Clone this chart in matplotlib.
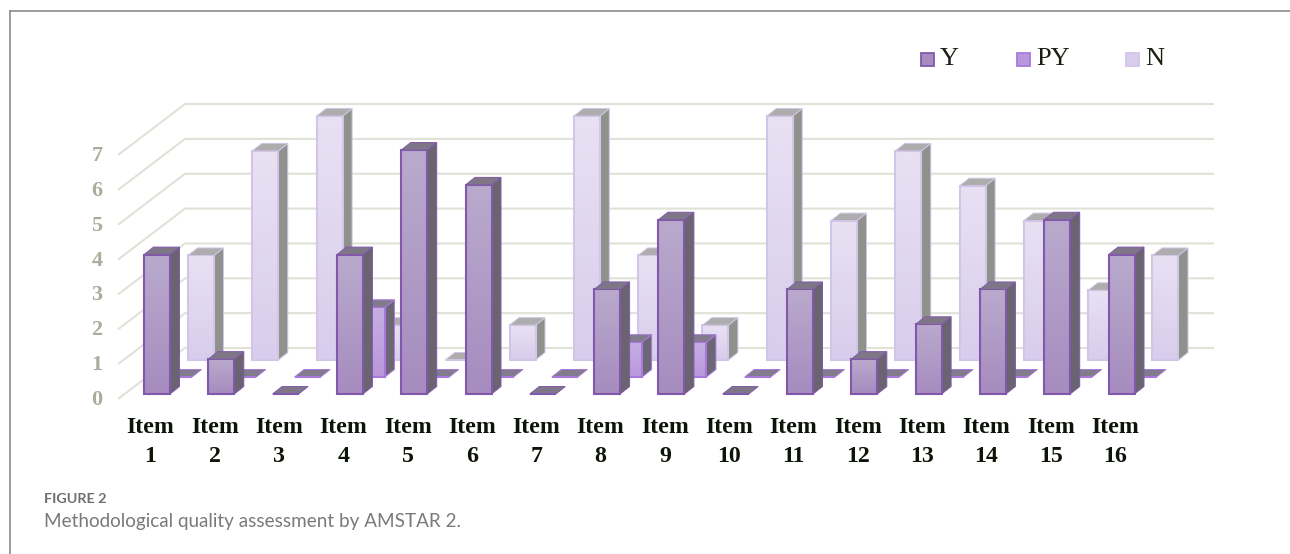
import numpy as np
import matplotlib
matplotlib.use("Agg")
import matplotlib.pyplot as plt
from matplotlib.colors import to_rgb
from matplotlib.patches import Polygon, Rectangle

# Counts of studies per AMSTAR 2 item
items = [f"Item\n{i}" for i in range(1, 17)]
y_counts = [4, 1, 0, 4, 7, 6, 0, 3, 5, 0, 3, 1, 2, 3, 5, 4]
py_counts = [0, 0, 0, 2, 0, 0, 0, 1, 1, 0, 0, 0, 0, 0, 0, 0]
n_counts = [3, 6, 7, 1, 0, 1, 7, 3, 1, 7, 4, 6, 5, 4, 2, 3]
value_ticks = list(range(8))

W, H = 1290, 554
UX, UY = 64.3, 34.85          # pixels per item / per count
X0, Y0 = 157.0, 394.0         # pixel position of item 1 centre and of count 0

fig = plt.figure(figsize=(W / 100, H / 100), dpi=100, facecolor="white")
ax = fig.add_axes([0, 0, 1, 1])
ax.axis("off")

BAR_W = 26 / UX
DEPTH_X, DEPTH_Y = 9.5 / UX, 7.5 / UY
ROW_X, ROW_Y = 22.0 / UX, 17.0 / UY

# Oblique grid: a diagonal floor/wall seam and a long horizontal for every count
GRID = "#e0e2d7"
grid_front_x = 1 - 39 / UX
grid_back_x = 1 + 28 / UX
grid_end_x = 1 + (1214 - X0) / UX
for v in value_ticks:
    ax.plot([grid_front_x, grid_back_x, grid_end_x],
            [v - 5 / UY, v + 46 / UY, v + 46 / UY],
            color=GRID, lw=1.5, zorder=1, solid_capstyle="butt")
    ax.text(1 - 60 / UX, v - 6 / UY, str(v), ha="center", va="center",
            family="Liberation Serif", weight="bold", fontsize=16, color="#a8ae9b", zorder=1)

# Colours per series: gradient top, gradient bottom, edge, side face, top face
STYLES = {
    "Y": ("#b9aacd", "#a68cbf", "#8158ab", "#6a6470", "#7f7788"),
    "PY": ("#c6afe4", "#b997dc", "#a878dc", "#6c6675", "#827b8c"),
    "N": ("#e8e1f3", "#d8cdec", "#d2c5e8", "#8f918c", "#aeadad"),
}

order = [0]


def next_z():
    order[0] += 1
    return 2 + order[0] * 0.01


def draw_bar(i, value, row, style):
    top_c, bot_c, edge, side_c, lid_c = STYLES[style]
    x = i - BAR_W / 2 + row * ROW_X
    b = row * ROW_Y
    t = b + value
    grad = np.linspace(to_rgb(top_c), to_rgb(bot_c), 64).reshape(64, 1, 3)
    if value > 0:
        # right-hand side face and gradient front face
        ax.add_patch(Polygon([(x + BAR_W, b), (x + BAR_W + DEPTH_X, b + DEPTH_Y),
                              (x + BAR_W + DEPTH_X, t + DEPTH_Y), (x + BAR_W, t)],
                             fc=side_c, ec=edge, lw=0.7, zorder=next_z()))
        ax.imshow(grad, extent=(x, x + BAR_W, b, t), aspect="auto", origin="upper",
                  interpolation="bilinear", zorder=next_z())
        ax.add_patch(Rectangle((x, b), BAR_W, value, fc="none", ec=edge, lw=1.5, zorder=next_z()))
    # lid; a zero count leaves only this flat tile on the floor
    ax.add_patch(Polygon([(x, t), (x + BAR_W, t), (x + BAR_W + DEPTH_X, t + DEPTH_Y),
                          (x + DEPTH_X, t + DEPTH_Y)],
                         fc=lid_c, ec=edge, lw=0.7, zorder=next_z()))
    if value == 0:
        ax.plot([x, x + BAR_W], [t, t], color=edge, lw=1.5, zorder=next_z(), solid_capstyle="butt")


# Painted back to front so the front row overlaps the rows behind it
for row, (name, counts) in zip((2, 1, 0), (("N", n_counts), ("PY", py_counts), ("Y", y_counts))):
    for idx, val in enumerate(counts):
        draw_bar(idx + 1, val, row, name)

# Category labels under the front row
for idx, label in enumerate(items):
    ax.text(idx + 1 - 6.5 / UX, -48 / UY, label, ha="center", va="center", linespacing=1.45,
            family="Liberation Serif", weight="bold", fontsize=17.2, color="#0d1408", zorder=5)

ax.set_xlim(1 - X0 / UX, 1 + (W - X0) / UX)
ax.set_ylim((Y0 - H) / UY, Y0 / UY)

# Legend, in figure pixels
for px, label, name in ((921, "Y", "Y"), (1017, "PY", "PY"), (1126, "N", "N")):
    top_c, bot_c, edge, _, _ = STYLES[name]
    fig.add_artist(Rectangle((px / W, 1 - 66 / H), 13 / W, 13 / H, transform=fig.transFigure,
                             fc=bot_c, ec=edge, lw=1.3))
    fig.text((px + 19) / W, 1 - 59 / H, label, ha="left", va="center",
             family="Liberation Serif", fontsize=19, color="#1a1f14")

# Panel rule along the top and left edges
for xs, ys in (((10, W), (11, 11)), ((10, 10), (11, H))):
    fig.add_artist(plt.Line2D([x / W for x in xs], [1 - y / H for y in ys],
                              color="#8c8c8c", lw=1.2, transform=fig.transFigure))

# Caption
fig.text(44 / W, 1 - 499 / H, "FIGURE 2", family="Lato", weight="bold", fontsize=10.4,
         color="#6f6f6f", va="center")
fig.text(44 / W, 1 - 522 / H, "Methodological quality assessment by AMSTAR 2.", family="Lato",
         fontsize=13.6, color="#7a7a7a", va="center")

fig.savefig("out.png", dpi=100)
